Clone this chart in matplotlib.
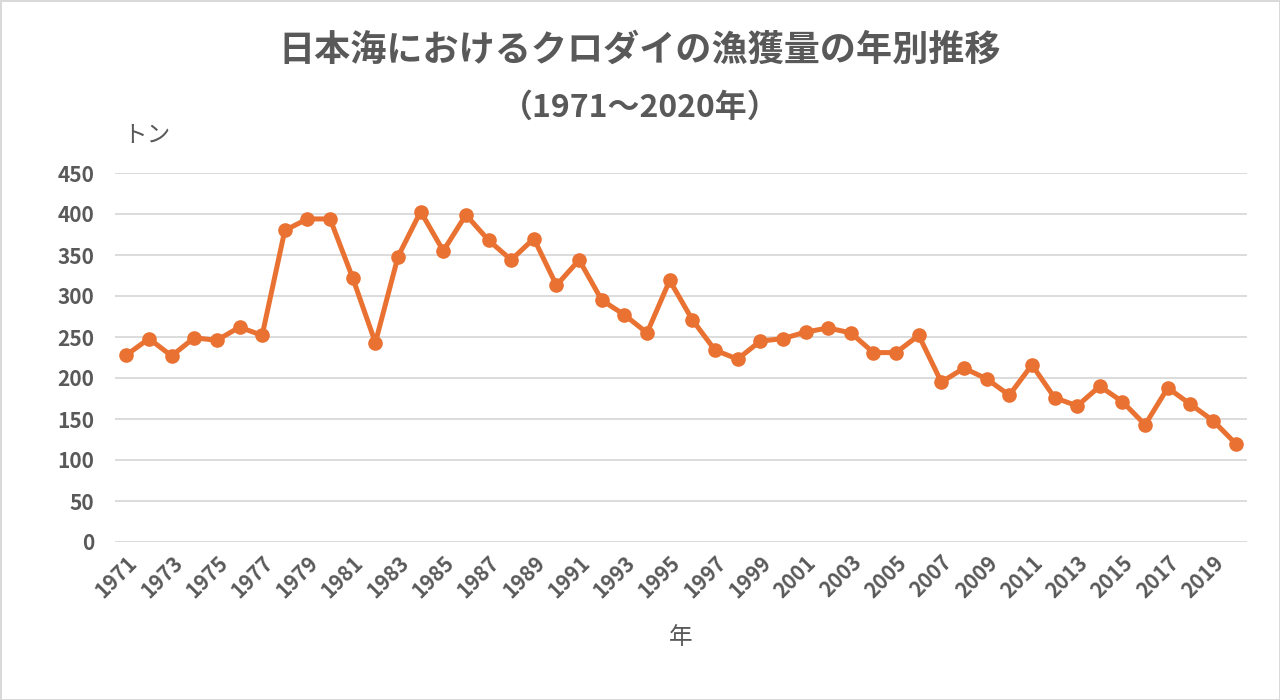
import matplotlib
matplotlib.use("Agg")
from matplotlib import pyplot as plt
import numpy as np

# data (tonnes)
years = list(range(1971, 2021))
catch = [
    228, 248, 227, 249, 246, 262, 252, 380, 394, 394,
    322, 243, 348, 403, 355, 399, 368, 344, 370, 313,
    344, 295, 277, 255, 319, 271, 234, 223, 245, 248,
    256, 261, 255, 231, 231, 252, 195, 212, 199, 179,
    216, 176, 166, 190, 171, 143, 188, 168, 148, 120,
]
titleLine1 = "日本海におけるクロダイの漁獲量の年別推移"
titleLine2 = "（1971～2020年）"
yLabel = "トン"
xLabel = "年"
yTicks = [0, 50, 100, 150, 200, 250, 300, 350, 400, 450]

plt.rcParams["font.family"] = ["Noto Sans CJK JP", "DejaVu Sans"]
textColor = "#595959"
lineColor = "#E97132"

fig = plt.figure(figsize=(12.8, 7), dpi=100)
fig.patch.set_edgecolor("#D9D9D9")
fig.patch.set_linewidth(2)
ax = fig.add_axes([115 / 1280, 1 - 542 / 700, (1247 - 115) / 1280, (542 - 173) / 700])

ax.plot(years, catch, color=lineColor, linewidth=3.6, marker="o",
        markersize=9.5, solid_joinstyle="round", zorder=3)

ax.set_xlim(years[0] - 0.5, years[-1] + 0.5)
ax.set_ylim(0, 450)
ax.set_yticks(yTicks)
ax.set_yticklabels([str(v) for v in yTicks], fontsize=15, fontweight="bold", color=textColor)
ax.set_xticks(years[::2])
ax.set_xticklabels([str(y) for y in years[::2]], rotation=45, ha="right", va="top",
                   rotation_mode="anchor", fontsize=15, fontweight="bold", color=textColor)
ax.tick_params(axis="both", length=0)
ax.tick_params(axis="y", pad=15)
ax.tick_params(axis="x", pad=7)
ax.grid(axis="y", color="#D9D9D9", linewidth=1.3)
ax.set_axisbelow(True)
for s in ax.spines.values():
    s.set_visible(False)

fig.text(0.5, 1 - 50 / 700, titleLine1, ha="center", va="center",
         fontsize=26, fontweight="bold", color=textColor)
fig.text(0.5, 1 - 108 / 700, titleLine2, ha="center", va="center",
         fontsize=23, fontweight="bold", color=textColor)
fig.text(147 / 1280, 1 - 135 / 700, yLabel, ha="center", va="center", fontsize=17, color=textColor)
fig.text(681 / 1280, 1 - 638 / 700, xLabel, ha="center", va="center", fontsize=17, color=textColor)

fig.savefig("out.png", dpi=100, edgecolor=fig.get_edgecolor())
